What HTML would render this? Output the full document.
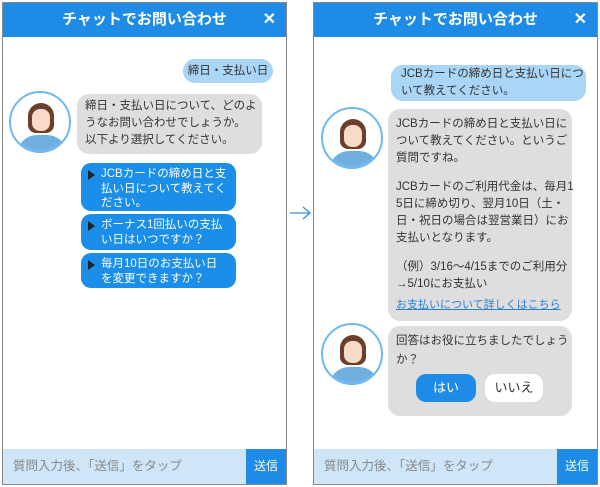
<!DOCTYPE html>
<html><head><meta charset="utf-8"><style>
*{margin:0;padding:0;box-sizing:border-box}
body{width:600px;height:487px;background:#fff;position:relative;overflow:hidden;font-family:"Liberation Sans","Noto Sans CJK JP",sans-serif;color:#333}
.p{position:absolute;top:2px;width:285px;height:483px;border:1px solid #888;background:#fff}
.hd{position:absolute;left:0;top:0;right:0;height:34px;background:#1e8be6;color:#fff;font-weight:bold;font-size:15px;text-align:center;line-height:34px}
.x{position:absolute;right:10px;top:0;font-size:16px}
.in{position:absolute;left:0;right:0;bottom:0;height:35px;background:#cfe6f8;color:#888;font-size:12.5px;line-height:35px;padding-left:10px}
.sd{position:absolute;right:0;top:0;width:40px;height:35px;background:#1e8be6;color:#fff;font-size:12px;text-align:center}
.b{position:absolute;font-size:11.5px;line-height:19px;border-radius:12px;white-space:nowrap}
.u{background:#a9d5f6}
.g{background:#dedede}
.o{position:absolute;background:#1a8ee8;color:#fff;border-radius:10px;font-size:11.5px;line-height:14.5px;padding:4px 4px 4px 20px;left:78px;width:155px;white-space:nowrap}
.o:before{content:"";position:absolute;left:7px;top:7px;border-left:7px solid #222;border-top:5px solid transparent;border-bottom:5px solid transparent}
.av{position:absolute;width:62px;height:62px;border-radius:50%;border:2px solid #6db8f0;background:#fff;overflow:hidden}
.av .h{position:absolute;left:17px;top:10px;width:26px;height:30px;border-radius:13px 13px 8px 8px;background:#6b3f2a}
.av .f{position:absolute;left:21px;top:16px;width:18px;height:22px;border-radius:8px;background:#f6dcc8}
.av .s{position:absolute;left:6px;top:42px;width:50px;height:30px;border-radius:20px 20px 0 0;background:#6fb0e0}
.gap{height:12px}
</style></head><body>

<div class="p" style="left:2px">
<div class="hd">チャットでお問い合わせ<span class="x">✕</span></div>
<div class="b u" style="left:180px;top:56px;width:90px;height:24px;line-height:24px;text-align:center">締日・支払い日</div>
<div class="av" style="left:6px;top:88px"><div class="s"></div><div class="h"></div><div class="f"></div></div>
<div class="b g" style="left:74px;top:91px;width:185px;height:60px;padding:4px 8px;line-height:17px">締日・支払い日について、どのよ<br>うなお問い合わせでしょうか。<br>以下より選択してください。</div>
<div class="o" style="top:160px;height:48px">JCBカードの締め日と支<br>払い日について教えてく<br>ださい。</div>
<div class="o" style="top:211px;height:36px">ボーナス1回払いの支払<br>い日はいつですか？</div>
<div class="o" style="top:250px;height:35px">毎月10日のお支払い日<br>を変更できますか？</div>
<div class="in">質問入力後、「送信」をタップ<div class="sd">送信</div></div>
</div>

<svg style="position:absolute;left:289px;top:205px" width="24" height="16"><path d="M1 8H20M14 2L21 8L14 14" stroke="#3a8fd8" stroke-width="1.3" fill="none"/></svg>

<div class="p" style="left:313px">
<div class="hd">チャットでお問い合わせ<span class="x">✕</span></div>
<div class="b u" style="left:77px;top:62px;width:195px;height:36px;padding:0 10px;line-height:17px;padding-top:1px">JCBカードの締め日と支払い日につ<br>いて教えてください。</div>
<div class="av" style="left:7px;top:104px"><div class="s"></div><div class="h"></div><div class="f"></div></div>
<div class="b g" style="left:74px;top:106px;width:184px;height:212px;padding:7px 8px;line-height:17px">JCBカードの締め日と支払い日に<br>ついて教えてください。というご<br>質問ですね。<div class="gap"></div>JCBカードのご利用代金は、毎月1<br>5日に締め切り、翌月10日（土・<br>日・祝日の場合は翌営業日）にお<br>支払いとなります。<div class="gap"></div>（例）3/16～4/15までのご利用分<br>→5/10にお支払い
<div style="position:absolute;left:8px;top:188px;color:#2a7fd4;text-decoration:underline;font-size:11px">お支払いについて詳しくはこちら</div></div>
<div class="av" style="left:7px;top:320px"><div class="s"></div><div class="h"></div><div class="f"></div></div>
<div class="b g" style="left:74px;top:323px;width:184px;height:90px;padding:6px 8px">回答はお役に立ちましたでしょう<br>か？
<div style="position:absolute;left:28px;top:48px;width:60px;height:28px;border-radius:10px;background:#1e8be6;color:#fff;text-align:center;line-height:28px;font-size:13px">はい</div>
<div style="position:absolute;left:97px;top:48px;width:58px;height:28px;border-radius:10px;background:#fff;text-align:center;line-height:28px;font-size:13px">いいえ</div></div>
<div class="in">質問入力後、「送信」をタップ<div class="sd">送信</div></div>
</div>
</body></html>
